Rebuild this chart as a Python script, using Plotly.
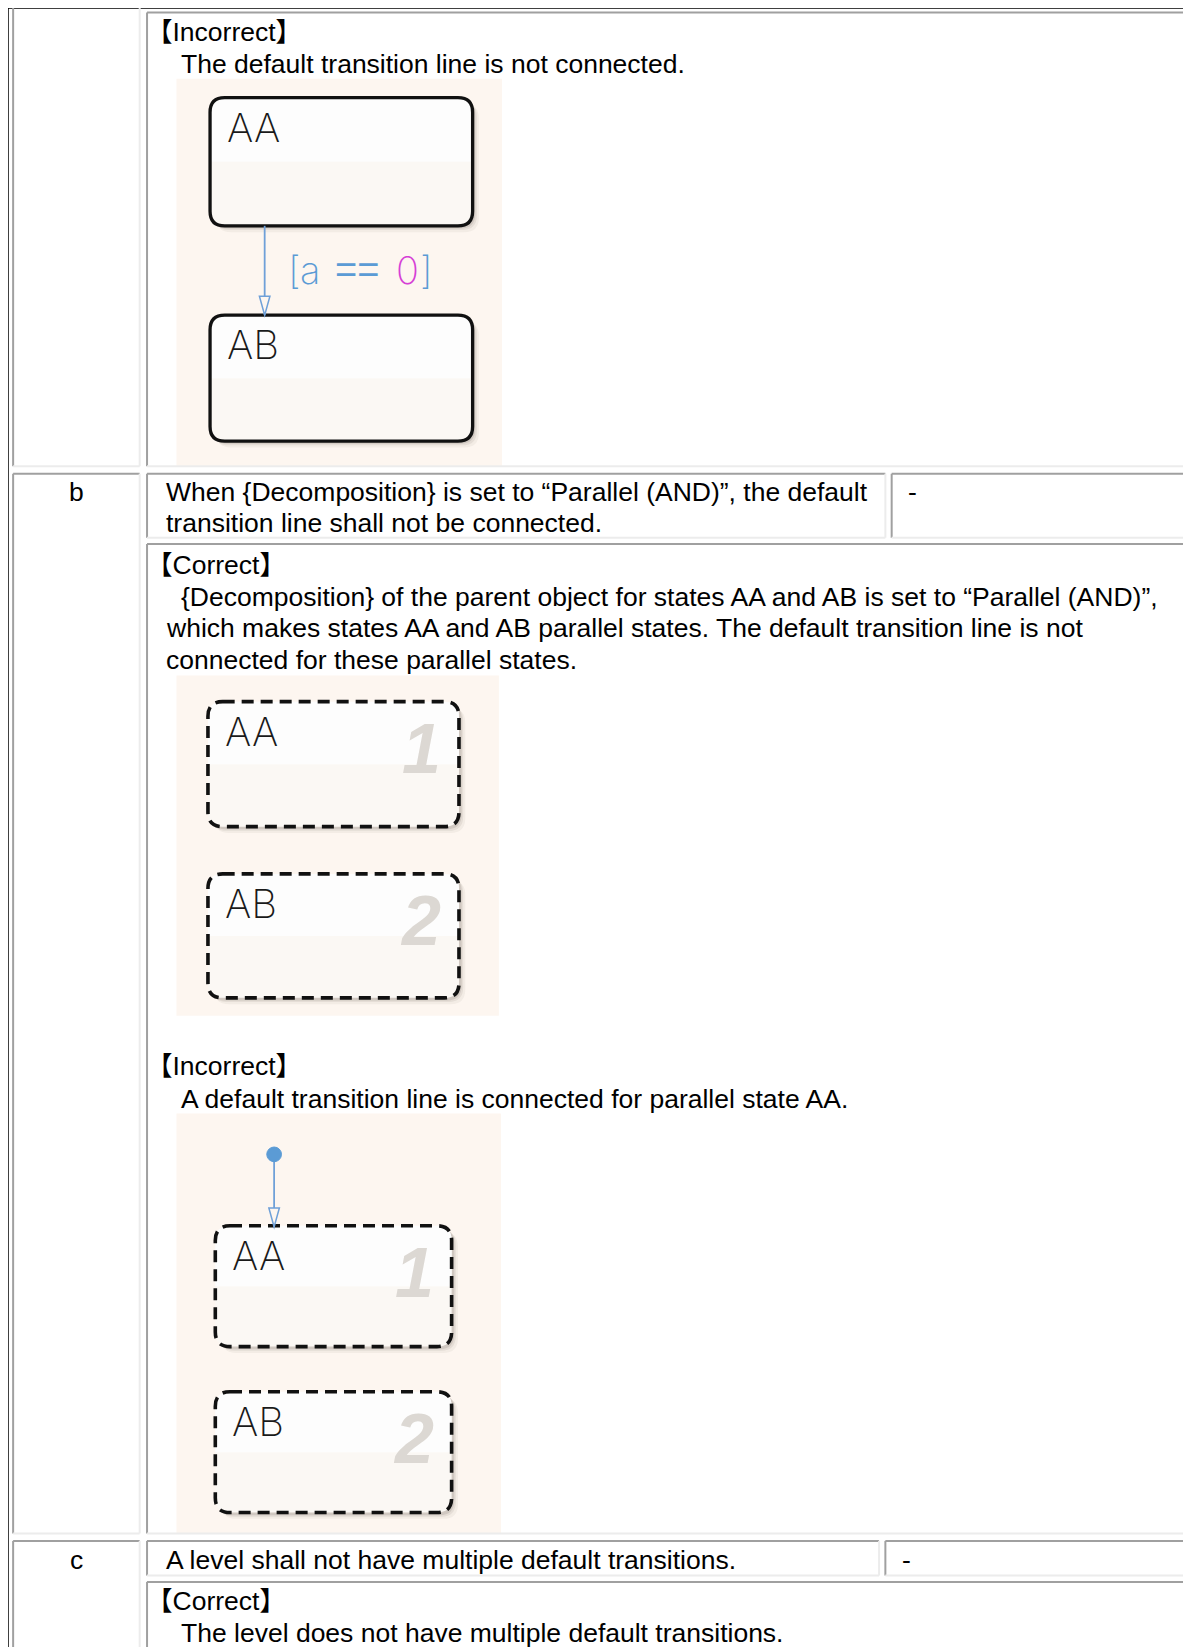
import plotly.graph_objects as go

# ---------------- data (text content) ----------------
row_labels = ["b", "c"]
row_b_rule = ["When {Decomposition} is set to \u201cParallel (AND)\u201d, the default",
              "transition line shall not be connected."]
row_c_rule = ["A level shall not have multiple default transitions."]
remarks = ["-", "-"]
headings = ["\u3010Incorrect\u3011", "\u3010Correct\u3011", "\u3010Incorrect\u3011", "\u3010Correct\u3011"]
top_incorrect_text = ["The default transition line is not connected."]
b_correct_text = ["{Decomposition} of the parent object for states AA and AB is set to \u201cParallel (AND)\u201d,",
                  "which makes states AA and AB parallel states. The default transition line is not",
                  "connected for these parallel states."]
b_incorrect_text = ["A default transition line is connected for parallel state AA."]
c_correct_text = ["The level does not have multiple default transitions."]
state_names = ["AA", "AB"]
exec_order = ["1", "2"]
guard_parts = ["[", "a", "==", "0", "]"]
guard_colors = ["#5b9bd5", "#5b9bd5", "#5b9bd5", "#d63fd6", "#5b9bd5"]

# ---------------- layout helpers ----------------
W, H = 1134, 1568          # reference coordinate system
S = 1191 / 1134            # pixels per unit
PAGE_MARGIN = 8            # html body margin in pixels
FONT = "Liberation Sans, Arial, Noto Sans CJK JP, sans-serif"
THIN = "Inter, Liberation Sans"
TXT = 26.5
LIGHT = "#ececec"
DARK = "#a0a0a0"
BLUE = "#5b9bd5"
PEACH = "#fdf6f0"

shapes = []
ann = []


def line(x0, y0, x1, y1, color, width, dash=None):
    d = dict(type="line", x0=x0, y0=y0, x1=x1, y1=y1, xref="x", yref="y",
             line=dict(color=color, width=width))
    if dash:
        d["line"]["dash"] = dash
    shapes.append(d)


def cell(x0, y0, x1, y1, top=True, bottom=True):
    if top:
        line(x0, y0, x1, y0, DARK, 2)
    line(x0, y0, x0, y1, DARK, 2)
    if bottom:
        line(x0, y1, x1, y1, LIGHT, 2)
    line(x1, y0, x1, y1, LIGHT, 2)


def text(x, y, s, size=TXT, color="#000", anchor="left", family=FONT, weight=None, italic=False):
    f = dict(size=size, color=color, family=family)
    if weight:
        f["weight"] = weight
    if italic:
        f["style"] = "italic"
    ann.append(dict(x=x, y=y, xref="x", yref="y", text=s, showarrow=False,
                    xanchor=anchor, yanchor="middle", font=f))


def rr_path(x0, y0, x1, y1, r):
    return (f"M{x0+r},{y0} L{x1-r},{y0} Q{x1},{y0} {x1},{y0+r} L{x1},{y1-r} "
            f"Q{x1},{y1} {x1-r},{y1} L{x0+r},{y1} Q{x0},{y1} {x0},{y1-r} "
            f"L{x0},{y0+r} Q{x0},{y0} {x0+r},{y0} Z")


def rect(x0, y0, x1, y1, fill):
    shapes.append(dict(type="rect", x0=x0, y0=y0, x1=x1, y1=y1, xref="x", yref="y",
                       fillcolor=fill, line=dict(width=0), layer="below"))


def state(x0, y0, x1, y1, name, order=None, dashed=False):
    r = 14
    for off, op in [(6, 0.05), (4, 0.08), (2.5, 0.12)]:
        shapes.append(dict(type="path", path=rr_path(x0 + off, y0 + off, x1 + off, y1 + off, r),
                           xref="x", yref="y", fillcolor=f"rgba(60,50,40,{op})", line=dict(width=0)))
    shapes.append(dict(type="path", path=rr_path(x0, y0, x1, y1, r), xref="x", yref="y",
                       fillcolor="#fbf8f4", line=dict(width=0)))
    ym = (y0 + y1) / 2
    shapes.append(dict(type="path",
                       path=f"M{x0+r},{y0} L{x1-r},{y0} Q{x1},{y0} {x1},{y0+r} L{x1},{ym} L{x0},{ym} L{x0},{y0+r} Q{x0},{y0} {x0+r},{y0} Z",
                       xref="x", yref="y", fillcolor="#fdfdfd", line=dict(width=0)))
    ln = dict(color="#111", width=3.3)
    if dashed:
        ln["dash"] = "12px,7px"
        ln["width"] = 3.6
    shapes.append(dict(type="path", path=rr_path(x0, y0, x1, y1, r), xref="x", yref="y",
                       fillcolor="rgba(0,0,0,0)", line=ln))
    text(x0 + 14, y0 + 28, name, size=40, color="#1a1a1a", family=THIN, weight=200)
    if order:
        text(x1 - 15, y0 + 45, order, size=70, color="#dcd8d3", anchor="right",
             family="Liberation Sans", weight="bold", italic=True)


def arrow_down(x, y0, y1):
    line(x, y0, x, y1, "#6fa0d8", 1.8)
    shapes.append(dict(type="path", path=f"M{x-5},{y1-18} L{x},{y1} L{x+5},{y1-18} Z",
                       xref="x", yref="y", fillcolor=PEACH, line=dict(color="#6fa0d8", width=1.5)))


# ---------------- outer table border ----------------
line(7, 7, W + 20, 7, "#000", 2.8)
line(7, 7, 7, H + 20, "#000", 2.8)

# ---------------- row a (continued from above) ----------------
cell(12.5, 0, 133, 444, top=False)
cell(140, 12, W + 20, 444)
text(137, 30, headings[0])
text(170, 61, top_incorrect_text[0])
rect(168, 75, 478, 444, PEACH)
state(200, 93, 450, 215, state_names[0])
state(200, 300, 450, 420, state_names[1])
arrow_down(252, 215, 300)
guard_fonts = [(38, THIN), (38, THIN), (38, "Liberation Sans"), (38, THIN), (38, THIN)]
for xg, part, col, (sz, fam) in zip([272, 284, 317, 375, 398], guard_parts, guard_colors, guard_fonts):
    text(xg, 257, part, size=sz, color=col, family=fam, weight=200)

# ---------------- row b ----------------
cell(12.5, 451, 133, 1460)
text(73, 468, row_labels[0], anchor="center")
cell(140, 451, 843, 512)
text(156, 468, row_b_rule[0])
text(156, 498, row_b_rule[1])
cell(849, 451, W + 20, 512)
text(863, 468, remarks[0])

cell(140, 518, W + 20, 1460)
text(137, 538, headings[1])
text(170, 568, b_correct_text[0])
text(156, 598, b_correct_text[1])
text(156, 628, b_correct_text[2])
rect(168, 643, 475, 967, PEACH)
state(198, 668, 437, 787, state_names[0], exec_order[0], dashed=True)
state(198, 832, 437, 950, state_names[1], exec_order[1], dashed=True)

text(137, 1015, headings[2])
text(170, 1046, b_incorrect_text[0])
rect(168, 1060, 477, 1460, PEACH)
state(205, 1167, 430, 1282, state_names[0], exec_order[0], dashed=True)
state(205, 1325, 430, 1440, state_names[1], exec_order[1], dashed=True)
arrow_down(261, 1099, 1168)
shapes.append(dict(type="circle", x0=254, y0=1092, x1=268, y1=1106, xref="x", yref="y",
                   fillcolor=BLUE, line=dict(color=BLUE, width=1)))

# ---------------- row c ----------------
cell(12.5, 1467, 133, H + 20)
text(73, 1485, row_labels[1], anchor="center")
cell(140, 1467, 837, 1500)
text(156, 1485, row_c_rule[0])
cell(843, 1467, W + 20, 1500)
text(857, 1485, remarks[1])
cell(140, 1506, W + 20, H + 20)
text(137, 1524, headings[3])
text(170, 1555, c_correct_text[0])

m = PAGE_MARGIN / S
fig = go.Figure()
fig.update_layout(
    width=1191 - PAGE_MARGIN, height=1647 - PAGE_MARGIN,
    margin=dict(l=0, r=0, t=0, b=0),
    paper_bgcolor="white", plot_bgcolor="white",
    xaxis=dict(range=[m, W], visible=False, fixedrange=True),
    yaxis=dict(range=[H, m], visible=False, fixedrange=True),
    shapes=shapes, annotations=ann, showlegend=False,
    font=dict(family=FONT, size=TXT, color="#000"),
)
fig.write_html("out.html")
